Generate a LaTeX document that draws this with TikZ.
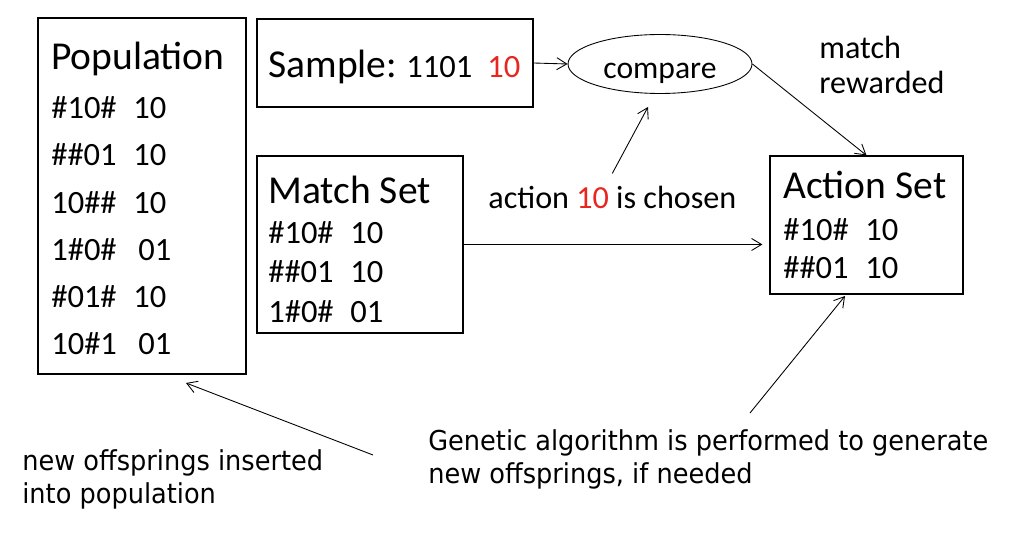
\documentclass[tikz,border=0pt]{standalone}
\usepackage{fontspec}
\setmainfont{Carlito}
\newfontfamily\tahomaish[FakeStretch=0.935]{DejaVu Sans}
\usetikzlibrary{shapes.geometric,arrows.meta}
\definecolor{chosenred}{RGB}{232,37,30}

\begin{document}
\begin{tikzpicture}[x=0.02cm,y=-0.02cm,
  box/.style={draw, line width=0.7pt, inner sep=0pt},
  title/.style={anchor=base west, inner sep=0pt, font=\fontsize{22.5}{26}\selectfont},
  item/.style={anchor=base west, inner sep=0pt, font=\fontsize{18.5}{22}\selectfont},
  note/.style={anchor=base west, inner sep=0pt, align=left, font=\fontsize{18.3}{20}\selectfont},
  gnote/.style={anchor=base west, inner sep=0pt, align=left, font=\tahomaish\fontsize{15.6}{18.7}\selectfont},
  arr/.style={-{Straight Barb[length=2mm,width=2.4mm]}, line width=0.5pt}]
    \newcommand{\hl}[1]{\textcolor{chosenred}{#1}}
\useasboundingbox (0,0) rectangle (1028,540);

% boxes
\node[box, minimum width=4.16cm, minimum height=7.12cm] (pop) at (142,196) {};
\node[box, minimum width=5.52cm, minimum height=1.76cm] (sample) at (395,63) {};
\node[box, minimum width=4.12cm, minimum height=3.54cm] (mset) at (360,244.5) {};
\node[box, minimum width=3.86cm, minimum height=2.76cm] (actset) at (866.5,225) {};
\node[draw, ellipse, line width=0.5pt, minimum width=3.68cm, minimum height=1.16cm,
  text height=0.6cm, text depth=0pt, font=\fontsize{18}{20}\selectfont] (cmp) at (660,64) {compare};

% population
\node[title] (popT) at (51,70) {Population};
\foreach \c/\a/\dx [count=\i] in {\#10\#/10/0, \#\#01/10/0, 10\#\#/10/0,
    1\#0\#/01/5, \#01\#/10/0, 10\#1/01/5} {
  \node[item] (popC\i) at (51,71.5+47.2*\i) {\c};
  \node[item] (popA\i) at (133+\dx,71.5+47.2*\i) {\a};
}

% sample
\node[title] (sampleT) at (268,78) {Sample:};
\node[item] (sampleC) at (406,78) {1101};
\node[item] (sampleA) at (487,78) {\hl{10}};

% match set
\node[title] (msetT) at (268,204) {Match Set};
\foreach \c/\a/\y [count=\i] in {\#10\#/10/244, \#\#01/10/283, 1\#0\#/01/323} {
  \node[item] (msetC\i) at (268,\y) {\c};
  \node[item] (msetA\i) at (350,\y) {\a};
}

% action set
\node[title] (actsetT) at (783,199) {Action Set};
\foreach \c/\a/\y [count=\i] in {\#10\#/10/241, \#\#01/10/279} {
  \node[item] (actsetC\i) at (783,\y) {\c};
  \node[item] (actsetA\i) at (865,\y) {\a};
}

% notes (base = last line)
\node[note] (chosen) at (488,209) {action \hl{10} is chosen};
\node[note] (reward) at (819,94) {match\\rewarded};
\node[gnote] (gen) at (428,483) {Genetic algorithm is performed to generate\\new offsprings, if needed};
\node[gnote] (offs) at (22,503) {new offsprings inserted\\into population};

\coordinate (chosenTip) at (648,107);
\coordinate (genTail) at (750,413);
\coordinate (genTip) at (845,296);
\coordinate (offsTail) at (373,455);
\coordinate (offsTip) at (186,383);

% arrows
\draw[arr] (sample.east) -- (cmp.west);
\draw[arr] (chosen.north) ++(0,-13) -- (chosenTip);
\draw[arr] (cmp.east) -- (actset.north);
\draw[arr, shorten >=0.14cm] (mset.east) -- (mset.east -| actset.west);
\draw[arr] (genTail) -- (genTip);
\draw[arr] (offsTail) -- (offsTip);

\end{tikzpicture}
\end{document}
